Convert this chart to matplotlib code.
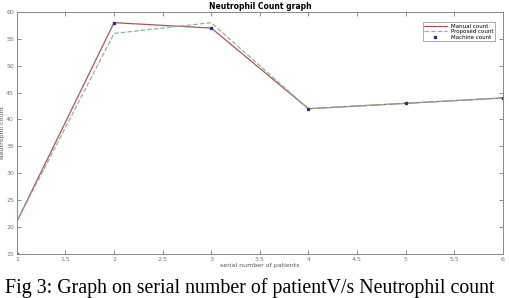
import matplotlib
matplotlib.use('Agg')
import matplotlib.pyplot as plt

patients = [1, 2, 3, 4, 5, 6]
manual_count = [21, 58, 57, 42, 43, 44]
proposed_count = [21, 56, 58, 42, 43, 44]
machine_count = [15, 58, 57, 42, 43, 44]

xticks = [1, 1.5, 2, 2.5, 3, 3.5, 4, 4.5, 5, 5.5, 6]
yticks = [15, 20, 25, 30, 35, 40, 45, 50, 55, 60]

fig = plt.figure(figsize=(5.1, 2.98), dpi=100)
ax = fig.add_axes([0.033, 0.148, 0.953, 0.812])

ax.plot(patients, manual_count, color='#a8575a', lw=0.9, label='Manual count')
ax.plot(patients, proposed_count, color='#8fb596', lw=0.9, ls='--', label='Proposed count')
ax.plot(patients, machine_count, ls='none', marker='s', ms=2, color='#2a2f8a', label='Machine count')

ax.set_xlim(1, 6)
ax.set_ylim(15, 60)
ax.set_xticks(xticks)
ax.set_xticklabels([f'{t:g}' for t in xticks])
ax.set_yticks(yticks)
ax.tick_params(direction='in', length=3, width=0.6, colors='#777777', labelsize=4.5,
               top=True, right=True, pad=2)
for s in ax.spines.values():
    s.set_color('#888888')
    s.set_linewidth(0.7)

ax.set_title('Neutrophil Count graph', fontsize=5.5, fontweight='bold', pad=2)
ax.set_xlabel('serial number of patients', fontsize=4.5, color='#555555', labelpad=1)
ax.set_ylabel('Neutrophil count', fontsize=4.5, color='#555555', labelpad=1)

leg = ax.legend(loc='upper right', bbox_to_anchor=(0.99, 0.97), fontsize=4, frameon=True,
                fancybox=False, edgecolor='#888888', borderpad=0.3, handlelength=4,
                labelspacing=0.1, markerscale=1.0)
leg.get_frame().set_linewidth(0.6)

fig.text(0.49, 0.035, 'Fig 3: Graph on serial number of patientV/s Neutrophil count',
         ha='center', va='center', fontsize=14.3, family='Liberation Serif')

fig.savefig('out.png', dpi=100)
